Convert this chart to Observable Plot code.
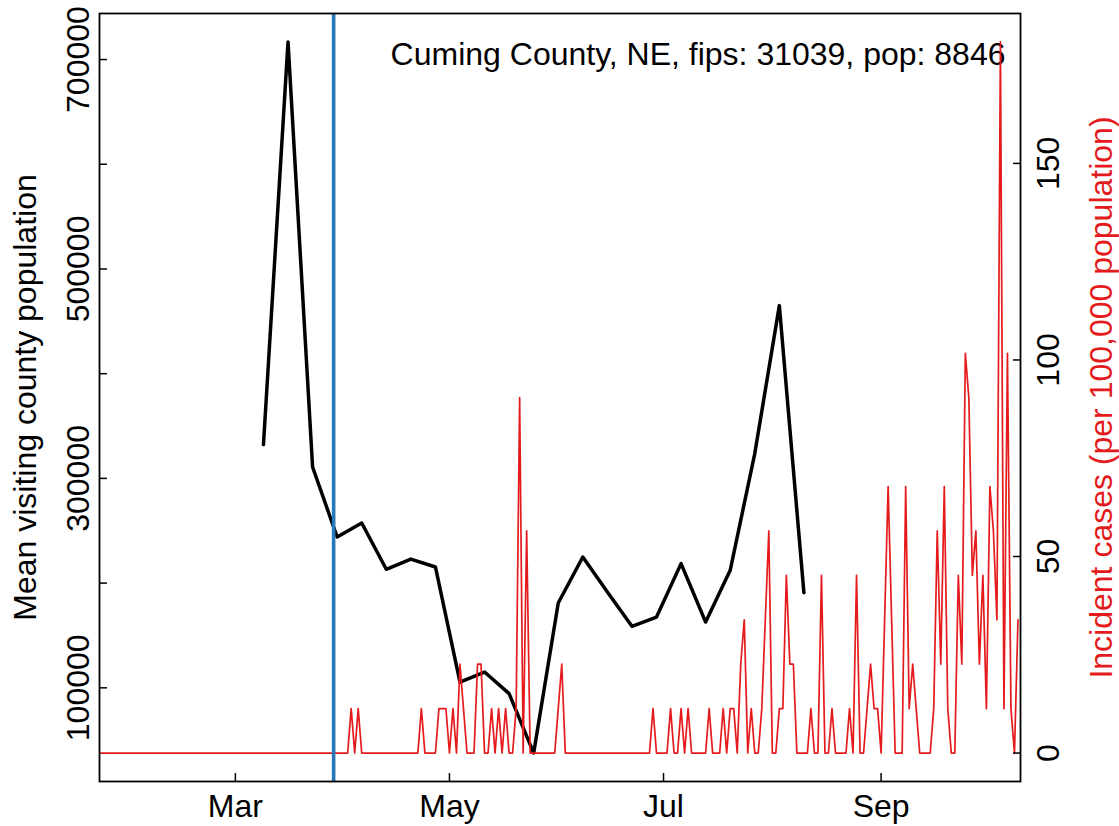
<!DOCTYPE html>
<html>
<head>
<meta charset="utf-8">
<script src="https://cdn.jsdelivr.net/npm/d3@7"></script>
<script src="https://cdn.jsdelivr.net/npm/@observablehq/plot@0.6"></script>
<style>
  html, body { margin: 0; padding: 0; background: #fff; }
</style>
</head>
<body>
<div id="chart"></div>
<script>
// ---------------- data ----------------
const titleText = "Cuming County, NE, fips: 31039, pop: 8846";
const leftLabel = "Mean visiting county population";
const rightLabel = "Incident cases (per 100,000 population)";

// weekly mean visiting county population, starting 2020-03-09
const visitStart = "2020-03-09";
const visitPop = [
  332300, 716800, 310900, 244000, 257400, 213200, 222900, 215400,
  105500, 115100, 94500, 37700, 181000, 224900, 191600, 158700,
  167600, 218600, 162800, 212200, 323700, 465000, 190900
];

// daily incident cases per 100,000, starting 2020-01-22
const caseStart = "2020-01-22";
const incidentRate = [
  0,0,0,0,0,0,0,0,0,0, 0,0,0,0,0,0,0,0,0,0, 0,0,0,0,0,0,0,0,0,0,
  0,0,0,0,0,0,0,0,0,0, 0,0,0,0,0,0,0,0,0,0, 0,0,0,0,0,0,0,0,0,0,
  0,0,0,0,0,0,0,0,0,0, 0,0,
  11.3, 0, 11.3,
  0,0,0,0,0,0,0,0,0,0, 0,0,0,0,0,0,0,
  11.3,
  0,0,0,0,
  11.3,11.3,11.3, 0, 11.3, 0, 22.6, 11.3, 0,0,0, 22.6,22.6, 0,0,
  11.3,0,11.3,0,11.3, 0,0, 11.3, 90.4, 0, 56.5,
  0,0,0,0,0,0,0,0,
  11.3, 22.6,
  0,0,0,0,0,0,0,0,0,0, 0,0,0,0,0,0,0,0,0,0, 0,0,0,0,0,
  11.3,
  0,0,0,0,
  11.3,0,0,11.3,0,11.3,
  0,0,0,0,0,
  11.3,
  0,0,0,
  11.3,0,11.3,11.3,0,22.6,33.9,0,11.3,0,0,11.3,33.9,56.5,0,0,11.3,11.3,45.2,22.6,22.6,
  0,0,0,0,
  11.3,0,0,45.2,0,0,11.3,
  0,0,0,0,
  11.3,0,45.2,0,0,11.3,22.6,11.3,11.3,0,33.9,67.8,33.9,0,0,0,67.8,11.3,22.6,11.3,
  0,0,0,0,
  11.3,56.5,22.6,67.8,11.3,0,0,45.2,22.6,101.7,90.4,45.2,56.5,22.6,45.2,11.3,67.8,56.5,33.9,180.9,11.3,101.7,11.3,0,33.9
];

const interventionDate = "2020-03-29";
const xLimits = ["2020-02-01", "2020-10-01"];
const xTickDates = ["2020-03-01", "2020-05-01", "2020-07-01", "2020-09-01"];
const leftTicks = [100000, 200000, 300000, 400000, 500000, 600000, 700000];
const leftTickLabels = [100000, 300000, 500000, 700000];
const rightTicks = [0, 50, 100, 150];

// ---------------- build ----------------
const DAY = 864e5;
const visits = visitPop.map((v, i) => ({date: new Date(Date.parse(visitStart) + i * 7 * DAY), value: v}));
const cases = incidentRate.map((v, i) => ({date: new Date(Date.parse(caseStart) + i * DAY), rate: v}));

function expand([a, b]) { const p = (b - a) * 0.04; return [a - p, b + p]; }
const [x0, x1] = expand(xLimits.map(Date.parse));
const yDom = expand(d3.extent(visitPop));
const rDom = expand(d3.extent(incidentRate));
const toLeft = v => yDom[0] + (v - rDom[0]) / (rDom[1] - rDom[0]) * (yDom[1] - yDom[0]);
const fromLeft = y => rDom[0] + (y - yDom[0]) / (yDom[1] - yDom[0]) * (rDom[1] - rDom[0]);

const font = "'Liberation Sans', Arial, Helvetica, sans-serif";
const red = "#e41a1c";
const xTicks = xTickDates.map(d => new Date(d));

const chart = Plot.plot({
  width: 1119,
  height: 826,
  marginLeft: 99,
  marginRight: 99,
  marginTop: 13,
  marginBottom: 45,
  style: {fontFamily: font, fontSize: "32px", background: "#fff", color: "#000", overflow: "visible"},
  x: {type: "utc", domain: [new Date(x0), new Date(x1)]},
  y: {domain: yDom},
  marks: [
    Plot.text([titleText], {frameAnchor: "top-right", text: d => d, textAnchor: "end", lineAnchor: "top", dx: -15, dy: 29, fontSize: 32, fill: "#000"}),
    Plot.line(visits, {x: "date", y: "value", stroke: "#000", strokeWidth: 3.5, clip: true}),
    Plot.line(cases, {x: "date", y: d => toLeft(d.rate), stroke: red, strokeWidth: 1.7, clip: true}),
    Plot.ruleX([new Date(interventionDate)], {stroke: "#2878b8", strokeWidth: 3.6}),
    Plot.frame({stroke: "#000", strokeWidth: 1.8}),
    // left axis
    Plot.axisY(leftTicks, {anchor: "left", tickSize: -8, tickFormat: () => "", label: null, strokeWidth: 1.5}),
    Plot.axisY(leftTickLabels, {anchor: "left", tickSize: 0, tickPadding: 11, tickRotate: -90, textAnchor: "middle", lineAnchor: "bottom", tickFormat: d3.format("d"), label: null, fontSize: 32}),
    // bottom axis
    Plot.axisX(xTicks, {anchor: "bottom", tickSize: -8, tickFormat: () => "", label: null, strokeWidth: 1.5}),
    Plot.axisX(xTicks, {anchor: "bottom", tickSize: 0, tickPadding: 13, tickFormat: d3.utcFormat("%b"), label: null, fontSize: 32}),
    // right axis
    Plot.axisY(rightTicks.map(toLeft), {anchor: "right", tickSize: -8, tickFormat: () => "", label: null, strokeWidth: 1.5}),
    Plot.axisY(rightTicks.map(toLeft), {anchor: "right", tickSize: 0, tickPadding: 38, tickRotate: -90, textAnchor: "middle", lineAnchor: "bottom", tickFormat: y => String(Math.round(fromLeft(y))), label: null, fontSize: 32}),
    // axis titles
    Plot.text([leftLabel], {frameAnchor: "left", text: d => d, rotate: -90, textAnchor: "middle", lineAnchor: "bottom", dx: -64, fontSize: 32, fill: "#000"}),
    Plot.text([rightLabel], {frameAnchor: "right", text: d => d, rotate: -90, textAnchor: "middle", lineAnchor: "bottom", dx: 91, fontSize: 32, fill: red})
  ]
});
document.getElementById("chart").appendChild(chart);
</script>
</body>
</html>
